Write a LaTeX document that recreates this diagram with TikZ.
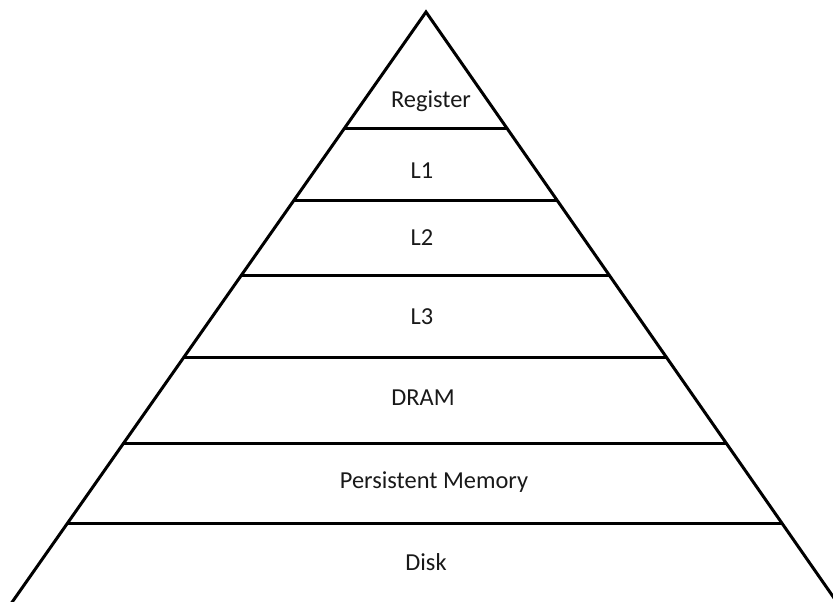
\documentclass[tikz,border=0pt]{standalone}
\usepackage{fontspec}
\setmainfont{Carlito}
\tikzset{
	level/.style={font=\fontsize{24.4}{28}\selectfont, text=black!90, inner sep=0pt},
	edge/.style={line width=3pt, line cap=round}
}
\begin{document}
\begin{tikzpicture}[x=1pt, y=-1pt]
	\useasboundingbox (0, 0) rectangle (833, 602);
	\clip (0, 0) rectangle (833, 602);

	\coordinate (top) at (426, 12);
	\coordinate (bl) at (8, 608);
	\coordinate (br) at (841, 608);
	\draw[edge, line join=miter] (bl) -- (top) -- (br);

	\draw[edge] (344.6, 128) -- (506.8, 128);
	\draw[edge] (294.1, 200) -- (556.9, 200);
	\draw[edge] (241.4, 275) -- (609.2, 275);
	\draw[edge] (183.9, 357) -- (666.3, 357);
	\draw[edge] (123.6, 443) -- (726.2, 443);
	\draw[edge] (67.4, 523) -- (782, 523);

	\node[level] (reg) at (431, 101) {Register};
	\node[level] (l1) at (422, 171) {L1};
	\node[level] (l2) at (422, 238) {L2};
	\node[level] (l3) at (422, 317) {L3};
	\node[level] (dram) at (423, 398) {DRAM};
	\node[level] (pmem) at (434, 482) {Persistent Memory};
	\node[level] (disk) at (426, 562) {Disk};
\end{tikzpicture}
\end{document}
